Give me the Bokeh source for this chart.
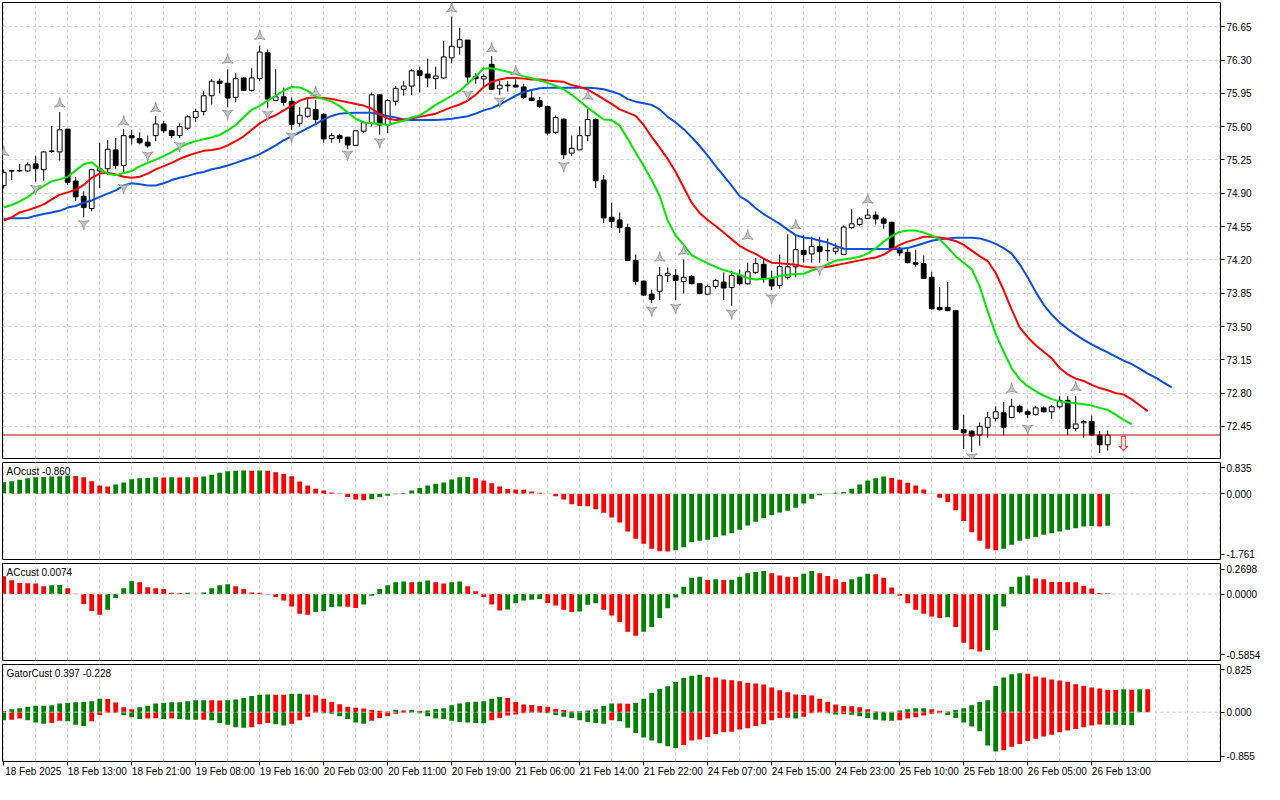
import numpy as np
from bokeh.plotting import figure
from bokeh.layouts import column
from bokeh.models import (Range1d, FixedTicker, Grid, Span, Label, ColumnDataSource,
                          PrintfTickFormatter, LinearAxis)
from bokeh.embed import file_html
from bokeh.resources import INLINE
from bokeh.core.properties import value

# ---------------- data ----------------
opens = [74.98, 75.137, 75.135, 75.135, 75.209, 75.148, 75.34, 75.335, 75.574, 75.029,
         74.869, 74.740, 75.135, 75.158, 75.356, 75.192, 75.506, 75.475, 75.438, 75.506,
         75.628, 75.557, 75.506, 75.584, 75.696, 75.761, 75.925, 76.078, 76.057, 75.908,
         76.112, 75.982, 76.105, 76.377, 75.874, 75.914, 75.867, 75.635, 75.710, 75.781,
         75.730, 75.475, 75.506, 75.489, 75.404, 75.553, 75.635, 75.935, 75.618, 75.867,
         75.993, 76.027, 76.187, 76.153, 76.105, 76.112, 76.323, 76.435, 76.510, 76.129,
         76.102, 76.255, 75.999, 76.037, 76.037, 76.017, 75.901, 75.874, 75.812, 75.540,
         75.679, 75.322, 75.356, 75.506, 75.676, 75.039, 74.648, 74.620, 74.539, 74.195,
         73.977, 73.840, 73.871, 74.035, 74.038, 73.973, 74.028, 73.950, 73.840, 73.922,
         73.967, 73.909, 74.035, 73.949, 74.069, 74.154, 74.007, 73.932, 74.018, 74.127,
         74.300, 74.263, 74.341, 74.297, 74.290, 74.256, 74.539, 74.573, 74.637, 74.671,
         74.630, 74.596, 74.324, 74.280, 74.171, 74.161, 74.018, 73.701, 73.701, 73.667,
         72.417, 72.400, 72.359, 72.441, 72.536, 72.594, 72.543, 72.662, 72.604, 72.577,
         72.645, 72.604, 72.656, 72.724, 72.427, 72.488, 72.502, 72.359, 72.257]
highs = [75.15, 75.145, 75.21, 75.226, 75.295, 75.346, 75.608, 75.754, 75.574, 75.073,
         74.920, 75.158, 75.431, 75.458, 75.482, 75.574, 75.567, 75.540, 75.506, 75.710,
         75.662, 75.567, 75.635, 75.720, 75.788, 75.976, 76.102, 76.105, 76.204, 76.163,
         76.119, 76.214, 76.452, 76.411, 76.204, 76.010, 75.908, 75.805, 75.890, 75.880,
         75.740, 75.533, 75.526, 75.495, 75.567, 75.662, 75.959, 75.942, 75.890, 76.027,
         76.078, 76.204, 76.231, 76.316, 76.231, 76.503, 76.759, 76.640, 76.510, 76.163,
         76.153, 76.343, 76.085, 76.078, 76.095, 76.051, 75.976, 75.914, 75.822, 75.720,
         75.686, 75.506, 75.601, 75.788, 75.686, 75.090, 74.801, 74.699, 74.580, 74.256,
         73.984, 73.888, 74.127, 74.120, 74.102, 74.205, 74.041, 73.957, 73.939, 74.001,
         74.069, 74.086, 74.100, 74.171, 74.222, 74.222, 74.086, 74.256, 74.470, 74.460,
         74.460, 74.443, 74.443, 74.426, 74.375, 74.562, 74.733, 74.654, 74.733, 74.709,
         74.648, 74.596, 74.331, 74.324, 74.307, 74.246, 74.075, 73.915, 73.967, 73.667,
         72.571, 72.407, 72.492, 72.604, 72.662, 72.707, 72.741, 72.679, 72.628, 72.666,
         72.662, 72.673, 72.768, 72.768, 72.768, 72.519, 72.564, 72.400, 72.407]
lows = [74.95, 75.039, 75.125, 75.125, 75.022, 75.032, 75.322, 75.244, 74.988, 74.818,
        74.648, 74.709, 74.954, 75.090, 75.158, 75.124, 75.414, 75.414, 75.380, 75.448,
        75.533, 75.482, 75.482, 75.567, 75.652, 75.720, 75.833, 75.952, 75.805, 75.856,
        75.975, 75.969, 76.078, 75.799, 75.867, 75.822, 75.567, 75.601, 75.696, 75.618,
        75.431, 75.431, 75.431, 75.363, 75.404, 75.533, 75.601, 75.516, 75.533, 75.822,
        75.925, 75.931, 75.959, 76.017, 75.993, 76.102, 76.265, 76.357, 76.061, 76.051,
        76.017, 75.993, 75.935, 75.969, 76.010, 75.890, 75.867, 75.795, 75.506, 75.526,
        75.261, 75.295, 75.356, 75.448, 74.954, 74.586, 74.535, 74.484, 74.195, 73.939,
        73.824, 73.745, 73.779, 73.967, 73.779, 73.847, 73.943, 73.837, 73.830, 73.899,
        73.779, 73.718, 73.930, 73.939, 74.052, 73.960, 73.881, 73.898, 73.994, 74.018,
        74.171, 74.171, 74.171, 74.188, 74.256, 74.256, 74.528, 74.552, 74.630, 74.573,
        74.528, 74.307, 74.239, 74.164, 74.130, 74.001, 73.677, 73.667, 73.660, 72.417,
        72.213, 72.179, 72.247, 72.332, 72.502, 72.356, 72.536, 72.587, 72.536, 72.564,
        72.598, 72.530, 72.639, 72.359, 72.400, 72.332, 72.349, 72.169, 72.196]
closes = [75.12, 75.133, 75.14, 75.199, 75.158, 75.335, 75.345, 75.567, 75.015, 74.862,
          74.750, 75.148, 75.158, 75.363, 75.192, 75.506, 75.482, 75.431, 75.397, 75.628,
          75.557, 75.506, 75.601, 75.703, 75.761, 75.925, 76.078, 76.054, 75.901, 76.105,
          75.982, 76.112, 76.384, 75.890, 75.914, 75.856, 75.625, 75.720, 75.795, 75.676,
          75.472, 75.506, 75.475, 75.407, 75.557, 75.642, 75.935, 75.618, 75.874, 76.003,
          76.027, 76.187, 76.139, 76.112, 76.132, 76.333, 76.445, 76.514, 76.122, 76.105,
          76.129, 75.993, 76.037, 76.030, 76.017, 75.908, 75.874, 75.812, 75.533, 75.696,
          75.305, 75.373, 75.506, 75.676, 75.032, 74.641, 74.603, 74.539, 74.195, 73.973,
          73.830, 73.786, 74.035, 74.059, 73.984, 74.017, 73.950, 73.847, 73.922, 73.984,
          73.905, 74.035, 73.950, 74.075, 74.161, 74.001, 73.926, 74.130, 74.127, 74.307,
          74.256, 74.341, 74.290, 74.297, 74.324, 74.545, 74.579, 74.630, 74.671, 74.630,
          74.586, 74.324, 74.273, 74.171, 74.154, 74.007, 73.687, 73.677, 73.667, 72.417,
          72.383, 72.349, 72.451, 72.543, 72.604, 72.441, 72.662, 72.604, 72.577, 72.645,
          72.604, 72.656, 72.724, 72.427, 72.475, 72.502, 72.359, 72.257, 72.360]

# Alligator (already shifted as displayed)
jaw = [74.631, 74.637, 74.637, 74.641, 74.665, 74.682, 74.699, 74.716, 74.750, 74.767,
       74.801, 74.825, 74.862, 74.896, 74.930, 74.981, 75.005, 74.995, 74.981, 74.981,
       75.005, 75.039, 75.063, 75.083, 75.107, 75.124, 75.152, 75.169, 75.192, 75.220,
       75.250, 75.277, 75.312, 75.356, 75.403, 75.458, 75.499, 75.540, 75.584, 75.628,
       75.676, 75.713, 75.737, 75.744, 75.747, 75.747, 75.747, 75.730, 75.713, 75.696,
       75.676, 75.669, 75.669, 75.669, 75.669, 75.676, 75.683, 75.696, 75.710, 75.737,
       75.771, 75.795, 75.833, 75.880, 75.925, 75.965, 75.986, 76.003, 76.010, 76.010,
       76.010, 76.010, 76.010, 76.010, 76.003, 75.993, 75.969, 75.942, 75.890, 75.863,
       75.846, 75.829, 75.782, 75.703, 75.645, 75.574, 75.489, 75.397, 75.295, 75.186,
       75.083, 74.981, 74.869, 74.818, 74.743, 74.682, 74.630, 74.579, 74.518, 74.460,
       74.436, 74.426, 74.402, 74.382, 74.348, 74.317, 74.314, 74.314, 74.314, 74.314,
       74.314, 74.314, 74.314, 74.324, 74.348, 74.375, 74.402, 74.416, 74.426, 74.433,
       74.433, 74.433, 74.426, 74.402, 74.368, 74.324, 74.266, 74.154, 74.018, 73.864,
       73.728, 73.626, 73.541, 73.473, 73.415, 73.360, 73.313, 73.269, 73.228, 73.184,
       73.142, 73.105, 73.057, 73.006, 72.962, 72.911, 72.860]
teeth = [74.614, 74.648, 74.699, 74.723, 74.750, 74.784, 74.835, 74.886, 74.910, 74.937,
         74.988, 75.063, 75.107, 75.117, 75.097, 75.073, 75.063, 75.073, 75.107, 75.152,
         75.186, 75.220, 75.261, 75.295, 75.322, 75.346, 75.356, 75.370, 75.403, 75.448,
         75.499, 75.567, 75.635, 75.686, 75.720, 75.771, 75.822, 75.874, 75.901, 75.908,
         75.901, 75.890, 75.874, 75.856, 75.839, 75.822, 75.788, 75.730, 75.686, 75.669,
         75.676, 75.686, 75.703, 75.720, 75.737, 75.771, 75.805, 75.833, 75.874, 75.935,
         76.017, 76.071, 76.095, 76.112, 76.112, 76.105, 76.095, 76.095, 76.085, 76.078,
         76.071, 76.037, 76.017, 75.989, 75.942, 75.890, 75.839, 75.782, 75.748, 75.713,
         75.618, 75.492, 75.380, 75.261, 75.124, 74.961, 74.801, 74.692, 74.620, 74.556,
         74.488, 74.416, 74.348, 74.300, 74.263, 74.212, 74.171, 74.164, 74.157, 74.150,
         74.130, 74.120, 74.120, 74.127, 74.144, 74.161, 74.178, 74.195, 74.212, 74.225,
         74.256, 74.307, 74.358, 74.392, 74.416, 74.443, 74.443, 74.436, 74.419, 74.399,
         74.358, 74.297, 74.239, 74.188, 74.062, 73.881, 73.677, 73.490, 73.388, 73.303,
         73.234, 73.166, 73.064, 72.996, 72.952, 72.928, 72.887, 72.853, 72.830, 72.800,
         72.785, 72.734, 72.672, 72.611]
lips = [74.750, 74.777, 74.815, 74.859, 74.927, 74.978, 75.026, 75.046, 75.073, 75.141,
        75.206, 75.227, 75.158, 75.107, 75.090, 75.114, 75.135, 75.182, 75.220, 75.254,
        75.291, 75.332, 75.383, 75.421, 75.448, 75.468, 75.489, 75.513, 75.560, 75.618,
        75.700, 75.778, 75.819, 75.873, 75.925, 75.979, 76.017, 76.013, 75.976, 75.918,
        75.890, 75.863, 75.816, 75.751, 75.683, 75.645, 75.635, 75.628, 75.618, 75.642,
        75.662, 75.696, 75.717, 75.771, 75.829, 75.877, 75.925, 75.976, 76.051, 76.129,
        76.211, 76.214, 76.197, 76.177, 76.156, 76.129, 76.109, 76.085, 76.061, 76.027,
        75.993, 75.935, 75.870, 75.799, 75.737, 75.676, 75.669, 75.611, 75.472, 75.329,
        75.186, 75.039, 74.869, 74.614, 74.454, 74.358, 74.249, 74.205, 74.164, 74.127,
        74.093, 74.069, 74.042, 74.007, 73.994, 74.001, 74.007, 74.031, 74.045, 74.052,
        74.055, 74.089, 74.116, 74.154, 74.191, 74.205, 74.218, 74.232, 74.266, 74.321,
        74.392, 74.450, 74.494, 74.508, 74.508, 74.487, 74.457, 74.416, 74.331, 74.239,
        74.171, 74.103, 73.922, 73.660, 73.422, 73.235, 73.061, 72.945, 72.873, 72.822,
        72.775, 72.737, 72.713, 72.703, 72.693, 72.683, 72.669, 72.645, 72.625, 72.574,
        72.519, 72.475]

# Fractals (bar index, arrow level)
frac_up_idx = [0, 7, 15, 19, 28, 32, 39, 56, 61, 64, 73, 82, 85, 93, 99, 108, 126, 134]
frac_up_px = [75.33, 75.84, 75.65, 75.79, 76.30, 76.55, 75.96, 76.84, 76.42, 76.18,
              75.92, 74.22, 74.29, 74.45, 74.56, 74.83, 72.84, 72.86]
frac_dn_idx = [4, 10, 15, 18, 22, 28, 33, 36, 43, 47, 58, 62, 70, 81, 84, 91, 96, 102, 121, 128]
frac_dn_px = [74.95, 74.58, 74.96, 75.30, 75.40, 75.74, 75.73, 75.50, 75.31, 75.44,
              75.94, 75.87, 75.19, 73.67, 73.70, 73.64, 73.80, 74.10, 72.13, 72.43]

sell_idx = [140]
sell_px = [72.27]

ao = [0.308, 0.334, 0.370, 0.414, 0.440, 0.449, 0.458, 0.466, 0.484, 0.475,
      0.440, 0.334, 0.220, 0.194, 0.246, 0.299, 0.387, 0.414, 0.422, 0.440,
      0.431, 0.440, 0.436, 0.441, 0.437, 0.458, 0.510, 0.563, 0.598, 0.616,
      0.620, 0.616, 0.621, 0.616, 0.572, 0.528, 0.466, 0.326, 0.220, 0.132,
      0.088, 0.035, 0.009, -0.088, -0.158, -0.176, -0.150, -0.088, -0.053, -0.018,
      0.018, 0.088, 0.150, 0.220, 0.264, 0.299, 0.378, 0.440, 0.444, 0.414,
      0.352, 0.282, 0.194, 0.123, 0.114, 0.106, 0.062, 0.026, -0.004, -0.070,
      -0.158, -0.282, -0.326, -0.334, -0.414, -0.510, -0.634, -0.774, -1.012, -1.206,
      -1.338, -1.470, -1.540, -1.549, -1.514, -1.434, -1.302, -1.258, -1.232, -1.162,
      -1.118, -1.056, -0.968, -0.854, -0.748, -0.660, -0.572, -0.502, -0.458, -0.378,
      -0.264, -0.132, -0.044, -0.009, 0.026, 0.044, 0.132, 0.246, 0.352, 0.414,
      0.458, 0.422, 0.370, 0.290, 0.220, 0.114, -0.009, -0.106, -0.220, -0.440,
      -0.730, -1.030, -1.258, -1.470, -1.514, -1.470, -1.364, -1.258, -1.206, -1.162,
      -1.100, -1.056, -1.012, -0.968, -0.924, -0.880, -0.862, -0.880, -0.860]
ac = [0.157, 0.122, 0.097, 0.096, 0.094, 0.070, 0.078, 0.080, 0.052, 0.003,
      -0.087, -0.148, -0.183, -0.139, -0.035, 0.052, 0.113, 0.104, 0.061, 0.052,
      0.044, 0.013, 0.009, 0.013, 0.002, 0.015, 0.052, 0.078, 0.087, 0.070,
      0.044, 0.014, 0.013, -0.003, -0.026, -0.057, -0.109, -0.174, -0.183, -0.157,
      -0.148, -0.113, -0.109, -0.111, -0.122, -0.091, -0.014, 0.044, 0.078, 0.104,
      0.111, 0.104, 0.109, 0.119, 0.104, 0.094, 0.104, 0.111, 0.070, 0.026,
      -0.026, -0.091, -0.144, -0.135, -0.080, -0.057, -0.049, -0.044, -0.078, -0.100,
      -0.137, -0.157, -0.154, -0.093, -0.081, -0.137, -0.189, -0.246, -0.333, -0.368,
      -0.333, -0.290, -0.211, -0.124, -0.029, 0.064, 0.145, 0.154, 0.124, 0.131,
      0.124, 0.126, 0.154, 0.183, 0.194, 0.203, 0.183, 0.165, 0.154, 0.151,
      0.180, 0.203, 0.183, 0.159, 0.131, 0.107, 0.131, 0.154, 0.180, 0.174,
      0.145, 0.058, -0.015, -0.081, -0.137, -0.174, -0.197, -0.211, -0.203, -0.290,
      -0.429, -0.487, -0.507, -0.493, -0.319, -0.110, 0.064, 0.154, 0.165, 0.137,
      0.131, 0.107, 0.106, 0.105, 0.104, 0.072, 0.050, 0.009, 0.0074]
gator_up = [0.02, 0.05, 0.066, 0.094, 0.11, 0.112, 0.12, 0.15, 0.16, 0.17,
            0.177, 0.19, 0.23, 0.228, 0.166, 0.083, 0.05, 0.083, 0.11, 0.15,
            0.16, 0.17, 0.172, 0.19, 0.204, 0.206, 0.204, 0.202, 0.205, 0.22,
            0.243, 0.28, 0.30, 0.304, 0.302, 0.300, 0.315, 0.32, 0.304, 0.293,
            0.232, 0.177, 0.138, 0.094, 0.077, 0.061, 0.039, 0.022, 0.011, 0.04,
            0.03, 0.035, 0.02, 0.03, 0.055, 0.066, 0.12, 0.15, 0.17, 0.18,
            0.19, 0.23, 0.26, 0.243, 0.177, 0.133, 0.122, 0.105, 0.094, 0.055,
            0.039, 0.011, 0.015, 0.028, 0.05, 0.105, 0.15, 0.148, 0.146, 0.16,
            0.23, 0.33, 0.40, 0.45, 0.52, 0.59, 0.63, 0.646, 0.608, 0.602,
            0.564, 0.552, 0.536, 0.508, 0.497, 0.48, 0.425, 0.38, 0.343, 0.304,
            0.298, 0.287, 0.232, 0.177, 0.133, 0.105, 0.104, 0.083, 0.05, 0.011,
            0.008, 0.005, 0.03, 0.05, 0.066, 0.067, 0.05, 0.022, 0.01, 0.039,
            0.066, 0.12, 0.177, 0.204, 0.453, 0.60, 0.657, 0.674, 0.663, 0.619,
            0.602, 0.564, 0.547, 0.525, 0.481, 0.453, 0.425, 0.409, 0.387, 0.385,
            0.398, 0.386, 0.398, 0.397]
gator_down = [-0.14, -0.13, -0.11, -0.14, -0.18, -0.20, -0.19, -0.15, -0.16, -0.22,
              -0.24, -0.16, -0.05, -0.01, -0.012, -0.05, -0.09, -0.12, -0.11, -0.108,
              -0.12, -0.11, -0.12, -0.13, -0.132, -0.13, -0.14, -0.19, -0.22, -0.26,
              -0.27, -0.26, -0.21, -0.19, -0.21, -0.23, -0.20, -0.14, -0.08, -0.01,
              -0.02, -0.03, -0.07, -0.12, -0.18, -0.20, -0.15, -0.10, -0.07, -0.03,
              -0.01, -0.012, -0.02, -0.07, -0.11, -0.12, -0.15, -0.17, -0.18, -0.19,
              -0.192, -0.14, -0.10, -0.06, -0.04, -0.02, -0.01, -0.012, -0.02, -0.05,
              -0.08, -0.10, -0.14, -0.17, -0.19, -0.20, -0.14, -0.16, -0.27, -0.36,
              -0.44, -0.49, -0.54, -0.59, -0.62, -0.57, -0.49, -0.475, -0.43, -0.38,
              -0.35, -0.34, -0.30, -0.28, -0.24, -0.21, -0.14, -0.10, -0.097, -0.11,
              -0.08, -0.02, -0.005, -0.02, -0.04, -0.035, -0.045, -0.07, -0.10, -0.13,
              -0.145, -0.15, -0.14, -0.11, -0.09, -0.06, -0.03, -0.02, -0.05, -0.10,
              -0.18, -0.25, -0.33, -0.58, -0.68, -0.66, -0.60, -0.55, -0.50, -0.46,
              -0.42, -0.39, -0.35, -0.32, -0.29, -0.26, -0.23, -0.215, -0.218, -0.22,
              -0.224, -0.228]

price_ticks = [72.45, 72.80, 73.15, 73.50, 73.85, 74.20, 74.55, 74.90, 75.25, 75.60, 75.95, 76.30, 76.65]
date_tick_idx = list(range(0, 137, 8))
date_labels = ["18 Feb 2025", "18 Feb 13:00", "18 Feb 21:00", "19 Feb 08:00", "19 Feb 16:00",
               "20 Feb 03:00", "20 Feb 11:00", "20 Feb 19:00", "21 Feb 06:00", "21 Feb 14:00",
               "21 Feb 22:00", "24 Feb 07:00", "24 Feb 15:00", "24 Feb 23:00", "25 Feb 10:00",
               "25 Feb 18:00", "26 Feb 05:00", "26 Feb 13:00"]

# ---------------- styling / layout ----------------
FONT = "Liberation Sans"
FW = 1218
BAR_PX = 8
X_START = -0.15
xr = Range1d(X_START, X_START + FW / BAR_PX)
GRID_COLOR = "#d0d0d0"
UP_COLOR = "#008000"
DN_COLOR = "#ff0000"
LABEL_SHIFT = 3.7   # bars: centre of a left-aligned date label relative to its tick


def base_fig(fh, y0, y1, bottom=2, xaxis=False):
    p = figure(frame_width=FW, frame_height=fh, x_range=xr, y_range=Range1d(y0, y1),
               x_axis_location="below" if xaxis else None, y_axis_location="right",
               output_backend="svg", toolbar_location=None,
               min_border_left=2, min_border_right=44, min_border_top=2, min_border_bottom=bottom)
    p.background_fill_color = "white"
    p.border_fill_color = "white"
    p.outline_line_color = "black"
    p.outline_line_width = 1
    p.outline_line_alpha = 1.0
    for g in p.grid:
        g.visible = False
    p.add_layout(Grid(dimension=0, ticker=FixedTicker(ticks=list(range(0, 156, 4))),
                      grid_line_color=GRID_COLOR, grid_line_dash="3 3"))
    ya = p.yaxis[0]
    ya.axis_line_color = None
    ya.major_tick_in = 0
    ya.major_tick_out = 4
    ya.minor_tick_line_color = None
    ya.major_tick_line_color = "black"
    ya.major_label_text_font = FONT
    ya.major_label_text_font_size = "10px"
    ya.major_label_text_color = "black"
    ya.major_label_standoff = 2
    return p


def panel_title(p, fh, text):
    p.add_layout(Label(x=4, y=fh - 3, x_units="screen", y_units="screen", text=text,
                       text_font=FONT, text_font_size="10px", text_color="black",
                       text_baseline="top", text_align="left"))


def hist_colors(vals, first, absval=False):
    cols = [first]
    for i in range(1, len(vals)):
        a, b = (abs(vals[i]), abs(vals[i - 1])) if absval else (vals[i], vals[i - 1])
        cols.append(UP_COLOR if a > b else DN_COLOR)
    return cols


# ---------------- main price panel ----------------
MAIN_H = 456
pm = base_fig(MAIN_H, 72.113, 76.905)
pm.add_layout(Grid(dimension=1, ticker=FixedTicker(ticks=price_ticks),
                   grid_line_color=GRID_COLOR, grid_line_dash="3 3"))
pm.yaxis[0].ticker = FixedTicker(ticks=price_ticks)
pm.yaxis[0].formatter = PrintfTickFormatter(format="%.2f")

n = len(closes)
idx = list(range(n))
csrc = ColumnDataSource(dict(
    x=idx, h=highs, l=lows,
    top=[max(o, c) for o, c in zip(opens, closes)],
    bottom=[min(o, c) for o, c in zip(opens, closes)],
    fill=["white" if c > o else "black" for o, c in zip(opens, closes)],
))
pm.segment(x0="x", y0="l", x1="x", y1="h", source=csrc, line_color="black", line_width=1)
pm.vbar(x="x", width=0.6, top="top", bottom="bottom", fill_color="fill",
        line_color="black", line_width=1, source=csrc)

pm.line(list(range(len(jaw))), jaw, line_color="#0a4fe0", line_width=2)
pm.line(list(range(len(teeth))), teeth, line_color="#ff0000", line_width=2)
pm.line(list(range(len(lips))), lips, line_color="#00e600", line_width=2)

pm.scatter(frac_up_idx, frac_up_px, marker="triangle_pin", size=11,
           fill_color="#c4c4c4", line_color="#9a9a9a", line_width=1)
pm.scatter(frac_dn_idx, frac_dn_px, marker="triangle_pin", size=11, angle=np.pi,
           fill_color="#c4c4c4", line_color="#9a9a9a", line_width=1)

last = closes[-1]
pm.add_layout(Span(location=last, dimension="width", line_color="#b00000", line_width=1))
pm.add_layout(Label(x=FW + 1, y=last, x_units="screen", y_units="data", text=f"{last:.2f}",
                    text_font=FONT, text_font_size="10px", text_color="white",
                    background_fill_color="#c00000", text_baseline="middle", text_align="left",
                    padding=1))
pm.text(x=sell_idx, y=sell_px, text=["⇩"], text_font=value("DejaVu Sans"),
        text_font_size="21px", text_color="#ff3030", text_align="center", text_baseline="middle")

# ---------------- AO panel ----------------
SUB_H = 97
pao = base_fig(SUB_H, -1.761, 0.835)
pao.add_layout(Span(location=0, dimension="width", line_color="#c8c8c8", line_dash="3 3"))
pao.vbar(x=list(range(len(ao))), width=0.6, top=ao, bottom=0,
         fill_color=hist_colors(ao, UP_COLOR), line_color=None)
pao.yaxis[0].ticker = FixedTicker(ticks=[0.688, 0, -1.614])
pao.yaxis[0].major_label_overrides = {0.688: "0.835", 0: "0.000", -1.614: "-1.761"}
panel_title(pao, SUB_H, "AOcust -0.860")

# ---------------- AC panel ----------------
pac = base_fig(SUB_H, -0.5854, 0.2698)
pac.add_layout(Span(location=0, dimension="width", line_color="#c8c8c8", line_dash="3 3"))
pac.vbar(x=list(range(len(ac))), width=0.6, top=ac, bottom=0,
         fill_color=hist_colors(ac, DN_COLOR), line_color=None)
pac.yaxis[0].ticker = FixedTicker(ticks=[0.2213, 0, -0.5369])
pac.yaxis[0].major_label_overrides = {0.2213: "0.2698", 0: "0.0000", -0.5369: "-0.5854"}
panel_title(pac, SUB_H, "ACcust 0.0074")

# ---------------- Gator panel ----------------
pg = base_fig(SUB_H, -0.855, 0.825, bottom=24, xaxis=True)
pg.add_layout(Span(location=0, dimension="width", line_color="#c8c8c8", line_dash="3 3"))
pg.vbar(x=list(range(len(gator_up))), width=0.6, top=gator_up, bottom=0,
        fill_color=hist_colors(gator_up, DN_COLOR), line_color=None)
pg.vbar(x=list(range(len(gator_down))), width=0.6, top=0, bottom=gator_down,
        fill_color=hist_colors(gator_down, UP_COLOR, absval=True), line_color=None)
pg.yaxis[0].ticker = FixedTicker(ticks=[0.73, 0, -0.76])
pg.yaxis[0].major_label_overrides = {0.73: "0.825", 0: "0.000", -0.76: "-0.855"}
panel_title(pg, SUB_H, "GatorCust 0.397 -0.228")

# tick marks only (labels come from a second, shifted axis so they read left-aligned)
xa = pg.xaxis[0]
xa.ticker = FixedTicker(ticks=date_tick_idx)
xa.axis_line_color = None
xa.major_tick_in = 0
xa.major_tick_out = 4
xa.minor_tick_line_color = None
xa.major_tick_line_color = "black"
xa.major_label_overrides = {i: "" for i in date_tick_idx}
xa.major_label_standoff = 0

label_pos = [i + LABEL_SHIFT for i in date_tick_idx]
xb = LinearAxis(ticker=FixedTicker(ticks=label_pos),
                major_label_overrides={pos: lab for pos, lab in zip(label_pos, date_labels)})
xb.axis_line_color = None
xb.major_tick_line_color = None
xb.minor_tick_line_color = None
xb.major_tick_in = 0
xb.major_tick_out = 0
xb.major_label_standoff = 0
xb.major_label_text_font = FONT
xb.major_label_text_font_size = "10px"
xb.major_label_text_color = "black"
pg.add_layout(xb, "below")

layout = column(pm, pao, pac, pg, spacing=0)
open("out.html", "w").write(file_html(layout, INLINE))
